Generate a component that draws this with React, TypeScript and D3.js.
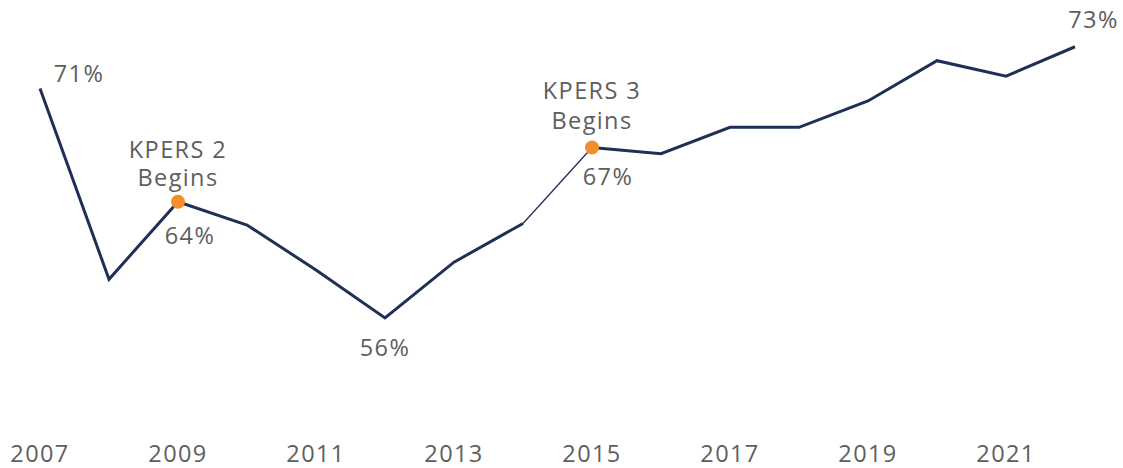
import * as d3 from "d3";

const WIDTH = 1123;
const HEIGHT = 468;

const years = [2007, 2008, 2009, 2010, 2011, 2012, 2013, 2014, 2015, 2016, 2017, 2018, 2019, 2020, 2021, 2022];
const ratios = [70.8, 58.5, 63.5, 62.0, 59.1, 56.0, 59.6, 62.1, 67.0, 66.6, 68.3, 68.3, 70.0, 72.6, 71.6, 73.5];
const tickYears = [2007, 2009, 2011, 2013, 2015, 2017, 2019, 2021];

// tier start markers
const markerYears = [2009, 2015];
const markerNames = ["KPERS 2", "KPERS 3"];
const markerOffsets = [
  [-53, -25],
  [-57.5, -28],
];

// value labels: year, text, dx, dy
const labelYears = [2007, 2009, 2012, 2015, 2022];
const labelTexts = ["71%", "64%", "56%", "67%", "73%"];
const labelOffsets = [
  [39, -16],
  [12, 33],
  [0, 29],
  [16, 28.5],
  [18.5, -27.5],
];

const LINE = "#1f3057";
const DOT = "#f28e2b";
const TEXT = "#5e5e5e";
const FONT = "'Open Sans', sans-serif";
const FS = 23.5;
const LS = 1.4;

export default function App() {
  const x = d3.scaleLinear().domain([2007, 2022]).range([40, 1075]);
  const y = d3.scaleLinear().domain([56, 71]).range([318, 85.5]);

  const pts = years.map((yr, i) => ({ yr, v: ratios[i] }));
  const line = d3
    .line<{ yr: number; v: number }>()
    .x((d) => x(d.yr))
    .y((d) => y(d.v));

  // the 2014 -> 2015 stretch is drawn thin in the original
  const i14 = years.indexOf(2014);
  const i15 = years.indexOf(2015);
  const before = pts.slice(0, i14 + 1);
  const bridge = pts.slice(i14, i15 + 1);
  const after = pts.slice(i15);

  const valueOf = (yr: number) => ratios[years.indexOf(yr)];

  return (
    <svg
      width={WIDTH}
      height={HEIGHT}
      style={{ position: "absolute", left: 0, top: 0, background: "#fff" }}
      fontFamily={FONT}
      fontSize={FS}
      letterSpacing={LS}
      fill={TEXT}
    >
      <path d={line(before) ?? ""} fill="none" stroke={LINE} strokeWidth={3} />
      <path d={line(bridge) ?? ""} fill="none" stroke={LINE} strokeWidth={1.3} />
      <path d={line(after) ?? ""} fill="none" stroke={LINE} strokeWidth={3} />

      {markerYears.map((yr, i) => {
        const cx = x(yr);
        const cy = y(valueOf(yr));
        return (
          <g key={yr}>
            <circle cx={cx} cy={cy} r={7} fill={DOT} />
            <text x={cx} y={cy + markerOffsets[i][0]} textAnchor="middle" dominantBaseline="central">
              {markerNames[i]}
            </text>
            <text x={cx} y={cy + markerOffsets[i][1]} textAnchor="middle" dominantBaseline="central">
              Begins
            </text>
          </g>
        );
      })}

      {labelYears.map((yr, i) => (
        <text
          key={yr}
          x={x(yr) + labelOffsets[i][0]}
          y={y(valueOf(yr)) + labelOffsets[i][1]}
          textAnchor="middle"
          dominantBaseline="central"
        >
          {labelTexts[i]}
        </text>
      ))}

      {tickYears.map((yr) => (
        <text key={yr} x={x(yr)} y={453} textAnchor="middle" dominantBaseline="central">
          {yr}
        </text>
      ))}
    </svg>
  );
}
